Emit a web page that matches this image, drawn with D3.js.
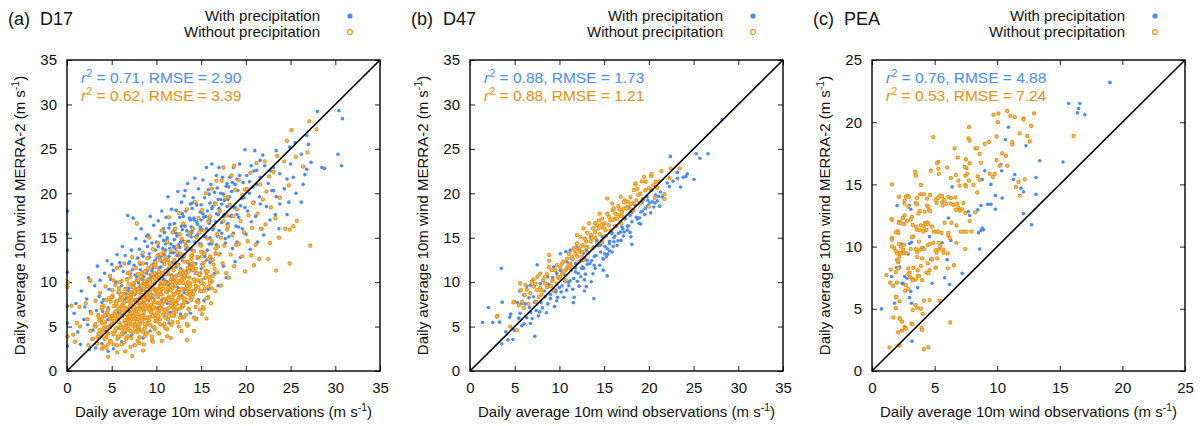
<!DOCTYPE html>
<html>
<head>
<meta charset="utf-8">
<script src="https://cdn.jsdelivr.net/npm/d3@7"></script>
<style>
  html, body { margin: 0; padding: 0; background: #fff; }
  svg text { font-family: "Liberation Sans", Arial, Helvetica, sans-serif; fill: #111; }
</style>
</head>
<body>
<svg id="chart" width="1204" height="426"></svg>
<script>
// ---- Site D17: daily mean 10 m wind, observed (x) vs MERRA-2 (y), m/s ----
const d17Precip = [
[0.05,18.0],[0.05,15.4],[0.05,13.6],[0.05,11.1],[0.05,9.9],[0.05,7.3],[0.05,5.4],[0.05,3.9],[0.05,2.8],
[1.6,9.0],[1.0,7.6],[0.8,6.5],[1.2,4.4],[1.5,3.0],[1.9,5.8],
[2.4,10.5],[2.2,8.1],[2.6,6.7],[2.3,5.2],[2.8,3.6],[2.9,4.6],[2.0,7.2],[2.5,2.4],
[3.4,11.8],[3.1,9.6],[3.6,8.4],[3.3,6.8],[3.8,5.7],[3.5,4.2],[3.9,3.1],[3.2,2.6],[3.9,7.7],[3.7,10.2],
[4.5,12.4],[4.2,11.0],[4.7,9.2],[4.1,8.0],[4.6,7.1],[4.3,6.2],[4.8,5.1],[4.4,3.8],[4.6,2.2],[4.9,10.3],[4.0,6.7],
[5.6,13.1],[5.9,12.2],[5.2,11.3],[5.5,10.0],[5.8,9.1],[5.1,8.3],[5.4,7.5],[5.7,6.6],[5.3,5.6],[5.9,4.8],[5.6,3.6],[5.2,2.5],[5.0,12.0],[5.7,8.8],
[6.8,17.5],[6.2,14.0],[6.5,13.0],[6.9,12.1],[6.3,11.2],[6.7,10.4],[6.1,9.6],[6.6,8.7],[6.4,7.9],[6.9,7.0],[6.2,6.1],[6.8,5.2],[6.5,4.3],[6.1,3.3],[6.0,11.8],[6.9,9.0],
[7.4,17.2],[7.7,14.9],[7.2,13.6],[7.9,12.7],[7.5,11.9],[7.1,11.0],[7.8,10.2],[7.3,9.4],[7.6,8.6],[7.0,7.8],[7.9,6.9],[7.4,6.0],[7.7,5.1],[7.2,4.0],[7.5,2.9],[7.0,12.3],[7.6,10.8],
[8.3,16.0],[8.7,14.6],[8.1,13.7],[8.5,12.9],[8.9,12.1],[8.2,11.4],[8.6,10.6],[8.0,9.9],[8.4,9.1],[8.8,8.4],[8.2,7.6],[8.6,6.8],[8.9,5.9],[8.1,4.8],[8.5,3.7],[8.9,15.2],[8.4,13.1],[8.9,11.0],
[9.3,17.4],[9.7,16.4],[9.1,15.3],[9.5,14.4],[9.9,13.6],[9.2,12.8],[9.6,12.0],[9.0,11.3],[9.4,10.5],[9.8,9.8],[9.2,9.0],[9.6,8.2],[9.1,7.4],[9.5,6.5],[9.9,5.6],[9.3,4.5],[9.0,14.0],[9.8,12.4],[9.7,10.9],
[10.6,18.0],[10.2,16.9],[10.8,16.0],[10.4,15.2],[10.0,14.5],[10.7,13.8],[10.3,13.1],[10.9,12.4],[10.5,11.7],[10.1,11.0],[10.8,10.3],[10.4,9.5],[10.0,8.8],[10.6,8.0],[10.2,7.1],[10.9,6.2],[10.5,5.2],[10.9,15.6],[10.1,12.8],[10.7,10.6],
[11.3,19.6],[11.7,18.2],[11.1,17.3],[11.5,16.5],[11.9,15.7],[11.2,15.0],[11.6,14.3],[11.0,13.6],[11.4,12.9],[11.8,12.2],[11.3,11.5],[11.7,10.8],[11.1,10.1],[11.5,9.3],[11.9,8.5],[11.2,7.6],[11.6,6.6],[11.4,5.4],[11.4,16.1],[11.9,13.3],[11.0,11.0],
[12.4,20.2],[12.8,19.0],[12.2,18.1],[12.6,17.3],[12.0,16.6],[12.9,15.9],[12.3,15.2],[12.7,14.5],[12.1,13.8],[12.5,13.1],[12.9,12.4],[12.2,11.7],[12.6,11.0],[12.0,10.2],[12.4,9.4],[12.8,8.5],[12.3,7.5],[12.7,6.4],[12.9,17.7],[12.0,14.8],[12.5,12.0],
[13.5,21.1],[13.1,19.7],[13.8,18.8],[13.3,18.0],[13.7,17.2],[13.0,16.5],[13.4,15.8],[13.9,15.1],[13.2,14.4],[13.6,13.7],[13.0,13.0],[13.5,12.2],[13.9,11.4],[13.3,10.6],[13.7,9.7],[13.1,8.8],[13.5,7.7],[13.8,6.5],[13.9,16.2],[13.4,14.0],[13.2,20.3],
[14.3,21.7],[14.7,20.5],[14.1,19.5],[14.5,18.7],[14.9,17.9],[14.2,17.2],[14.6,16.5],[14.0,15.8],[14.4,15.1],[14.8,14.3],[14.2,13.5],[14.6,12.7],[14.0,11.9],[14.4,11.0],[14.8,10.1],[14.3,9.1],[14.7,8.0],[14.5,5.9],[14.0,18.3],[14.9,16.0],
[15.6,22.9],[15.2,21.5],[15.8,20.4],[15.4,19.5],[15.0,18.7],[15.7,18.0],[15.3,17.3],[15.9,16.6],[15.1,15.9],[15.5,15.1],[15.9,14.3],[15.2,13.4],[15.6,12.5],[15.0,11.5],[15.4,10.4],[15.8,9.2],[15.3,7.9],[15.0,17.0],[15.9,19.9],
[16.2,23.3],[16.7,22.0],[16.1,21.0],[16.5,20.1],[16.9,19.3],[16.3,18.5],[16.7,17.7],[16.0,16.9],[16.4,16.1],[16.8,15.2],[16.2,14.3],[16.6,13.3],[16.0,12.2],[16.5,11.0],[16.9,9.6],[16.0,18.9],[16.8,20.6],
[17.0,22.9],[17.4,21.8],[17.8,20.8],[17.2,20.0],[17.6,19.2],[17.0,18.3],[17.5,17.4],[17.9,16.5],[17.3,15.5],[17.7,14.4],[17.1,13.2],[17.5,11.8],[17.8,10.5],[17.9,21.1],[17.3,18.8],
[18.6,22.9],[18.2,21.8],[18.8,21.0],[18.4,20.2],[18.0,19.3],[18.7,18.4],[18.3,17.4],[18.9,16.3],[18.1,15.1],[18.5,13.8],[18.8,12.3],[18.1,20.7],
[19.9,24.9],[19.3,23.3],[19.3,22.0],[19.7,21.2],[19.1,20.3],[19.5,19.4],[19.9,18.4],[19.2,17.3],[19.6,16.0],[19.0,14.5],[19.4,12.8],[19.0,21.6],
[21.0,24.8],[20.6,23.1],[20.1,22.0],[20.4,21.3],[20.8,20.7],[20.4,20.0],[20.9,19.0],[20.2,18.0],[20.6,16.8],[20.0,15.4],[20.5,13.7],[20.9,22.5],
[21.9,24.3],[21.6,23.7],[21.6,21.8],[21.2,21.0],[21.5,19.6],[21.6,18.8],[21.1,17.4],[21.8,16.0],[21.3,14.5],[21.2,22.6],
[22.1,23.1],[22.5,21.1],[22.9,20.3],[22.3,18.5],[22.7,17.0],[22.0,15.3],[22.8,22.5],
[23.4,24.8],[23.1,22.9],[23.8,22.2],[23.1,20.3],[23.4,19.6],[23.8,18.8],[23.3,17.6],[23.7,16.0],
[24.9,25.2],[24.6,21.6],[24.3,20.5],[24.8,19.0],[24.6,17.6],
[25.5,25.7],[25.3,21.8],[25.6,20.0],[25.0,23.3],
[26.8,26.5],[26.8,22.7],[26.6,22.1],[26.2,24.4],[26.2,19.0],[26.4,21.0],
[27.0,25.5],[27.3,23.5],
[28.0,29.2],[28.5,22.9],[28.8,22.8],
[30.4,29.3],[30.8,28.4],[30.3,24.4],[30.7,23.1],
// dense band along the 1:1 line
[6.2,7.4],[6.6,8.2],[6.9,9.3],[7.2,8.6],[7.5,9.9],[7.8,10.6],[7.3,11.4],[7.9,8.1],[8.1,9.4],[8.4,10.3],[8.7,11.2],[8.2,12.0],[8.8,9.0],[8.5,7.8],
[9.0,10.0],[9.3,10.8],[9.6,11.6],[9.9,12.5],[9.2,13.2],[9.7,9.3],[9.4,8.6],[10.0,10.7],[10.3,11.6],[10.6,12.3],[10.9,13.1],[10.2,14.0],[10.7,9.9],[10.4,9.1],[10.8,14.7],
[11.0,11.3],[11.3,12.4],[11.6,13.3],[11.9,14.0],[11.2,14.8],[11.7,10.5],[11.4,9.7],[11.8,15.6],[12.0,12.2],[12.3,13.0],[12.6,13.9],[12.9,14.7],[12.2,15.5],[12.7,11.5],[12.4,10.8],[12.8,16.3],
[13.0,12.8],[13.3,13.7],[13.6,14.6],[13.9,15.5],[13.2,16.3],[13.7,12.0],[13.4,11.3],[13.8,17.0],[14.0,13.6],[14.3,14.5],[14.6,15.3],[14.9,16.2],[14.2,17.0],[14.7,12.8],[14.4,12.1],
[15.0,14.3],[15.3,15.2],[15.6,16.0],[15.9,16.9],[15.2,17.7],[15.7,13.6],[15.4,12.9],[16.0,15.0],[16.3,15.9],[16.6,16.8],[16.9,17.6],[16.2,18.3],[16.7,14.2],
[17.0,15.8],[17.3,16.7],[17.6,17.6],[17.9,18.5],[17.2,19.3],[17.7,14.9],[18.0,16.6],[18.4,17.5],[18.8,18.4],[18.2,19.6],[18.6,15.5],[19.0,17.6],[19.4,18.6],[19.8,19.5],[19.2,16.2],
[5.4,6.3],[5.8,7.1],[5.1,5.3],[4.6,5.8],[4.3,4.5],[6.4,5.6],[7.0,6.7],[8.0,7.1],[9.1,7.9],[11.1,9.0],[12.1,9.9],[13.1,10.6],[14.1,11.3],[15.1,12.0],[16.1,12.7],
[9.5,11.3],[10.5,12.9],[11.5,13.8],[12.5,14.2],[13.5,15.3],[14.5,16.8],[15.5,17.4],[16.5,18.9],[17.5,19.9],[18.5,21.2],[11.0,14.3],[12.0,15.9],[13.0,17.4],[14.0,18.9]
];
const d17NoPrecip = [
[0.05,9.45],[0.05,3.9],[0.1,10.0],
[0.5,7.35],[1.45,5.0],[0.7,4.1],[1.4,7.2],[1.1,5.4],[0.9,3.3],[2.6,10.15],
[2.3,5.8],[2.6,4.5],[2.1,7.6],[2.9,3.6],[2.7,6.5],[2.4,2.9],[2.6,10.2],
[3.2,7.9],[3.5,6.3],[3.1,5.1],[3.8,4.0],[3.7,8.8],[3.4,3.1],[3.9,7.0],[3.6,5.7],[3.9,2.5],
[4.3,9.5],[4.7,8.2],[4.1,7.3],[4.5,6.6],[4.9,5.8],[4.2,5.0],[4.6,4.2],[4.8,3.4],[4.4,2.6],[4.6,1.6],[4.8,10.7],[4.9,7.8],[4.0,6.1],
[5.6,11.6],[5.2,10.2],[5.8,9.3],[5.1,8.5],[5.5,7.8],[5.9,7.1],[5.3,6.5],[5.7,5.9],[5.0,5.2],[5.4,4.5],[5.8,3.8],[5.2,3.0],[5.6,2.1],[5.4,9.7],[5.9,8.0],[5.0,6.2],[5.9,4.9],
[6.4,12.1],[6.8,11.0],[6.1,10.1],[6.6,9.3],[6.3,8.7],[6.9,8.1],[6.2,7.5],[6.7,6.9],[6.0,6.3],[6.5,5.7],[6.9,5.1],[6.3,4.5],[6.7,3.8],[6.1,3.0],[6.5,2.2],[6.9,9.8],[6.5,7.8],[6.4,6.6],[6.0,4.9],[6.0,8.4],
[7.8,16.6],[7.3,12.8],[7.7,11.6],[7.1,10.6],[7.5,9.8],[7.9,9.1],[7.2,8.5],[7.6,7.9],[7.0,7.3],[7.4,6.8],[7.8,6.2],[7.1,5.6],[7.5,5.0],[7.9,4.4],[7.2,3.7],[7.6,2.9],[7.8,10.2],[7.4,8.8],[7.9,7.6],[7.2,6.5],[7.6,5.3],[7.3,1.7],
[8.5,13.3],[8.1,12.2],[8.8,11.3],[8.3,10.5],[8.7,9.8],[8.0,9.2],[8.4,8.6],[8.9,8.0],[8.2,7.5],[8.6,6.9],[8.0,6.4],[8.5,5.8],[8.9,5.2],[8.3,4.6],[8.7,3.9],[8.1,3.1],[8.4,11.0],[8.9,9.5],[8.5,8.3],[8.9,7.2],[8.3,6.1],[8.0,4.9],[8.5,2.3],
[9.2,15.0],[9.6,13.7],[9.0,12.7],[9.4,11.8],[9.8,11.0],[9.1,10.3],[9.5,9.7],[9.9,9.1],[9.3,8.5],[9.7,8.0],[9.0,7.4],[9.4,6.9],[9.8,6.3],[9.2,5.7],[9.6,5.0],[9.0,4.3],[9.5,3.5],[9.6,10.7],[9.2,9.4],[9.0,8.2],[9.9,7.1],[9.1,6.0],[9.9,12.2],[9.8,4.7],
[10.6,15.8],[10.2,14.4],[10.8,13.4],[10.4,12.5],[10.0,11.7],[10.7,11.0],[10.3,10.4],[10.9,9.8],[10.1,9.2],[10.5,8.7],[10.8,8.1],[10.2,7.6],[10.6,7.0],[10.0,6.4],[10.4,5.8],[10.8,5.1],[10.2,4.3],[10.6,3.4],[10.9,12.0],[10.5,10.0],[10.0,8.9],[10.9,7.8],[10.3,6.7],[10.1,13.0],
[11.4,17.3],[11.8,15.6],[11.2,14.5],[11.6,13.6],[11.0,12.8],[11.5,12.1],[11.9,11.5],[11.3,10.9],[11.7,10.3],[11.1,9.8],[11.5,9.2],[11.9,8.7],[11.2,8.1],[11.6,7.5],[11.0,6.9],[11.4,6.2],[11.8,5.5],[11.2,4.7],[11.6,3.7],[11.0,11.2],[11.9,10.0],[11.4,8.4],[11.9,7.2],[11.3,12.5],
[12.5,17.8],[12.1,16.0],[12.8,14.9],[12.3,14.0],[12.7,13.2],[12.0,12.5],[12.4,11.9],[12.9,11.3],[12.2,10.7],[12.6,10.1],[12.0,9.5],[12.5,8.9],[12.9,8.3],[12.2,7.7],[12.6,7.0],[12.0,6.3],[12.4,5.5],[12.8,4.5],[12.6,12.8],[12.9,10.4],[12.3,9.0],[12.8,7.4],[12.6,15.4],[12.9,6.0],
[13.4,18.2],[13.0,16.6],[13.7,15.5],[13.2,14.5],[13.6,13.7],[13.1,13.0],[13.5,12.3],[13.9,11.7],[13.3,11.1],[13.7,10.5],[13.0,9.9],[13.4,9.2],[13.8,8.5],[13.2,7.8],[13.6,7.0],[13.1,6.1],[13.5,5.1],[13.9,12.6],[13.0,10.8],[13.8,9.6],[13.0,8.2],[13.3,14.1],[13.4,3.5],
[14.3,19.0],[14.7,17.2],[14.1,16.0],[14.5,15.0],[14.9,14.2],[14.2,13.5],[14.6,12.8],[14.0,12.1],[14.4,11.5],[14.8,10.8],[14.3,10.1],[14.7,9.4],[14.1,8.6],[14.5,7.8],[14.9,6.9],[14.4,5.8],[14.0,13.0],[14.9,11.0],[14.0,9.0],[14.8,15.6],[14.2,4.5],
[15.5,20.0],[15.1,18.1],[15.8,16.8],[15.3,15.8],[15.7,14.9],[15.0,14.1],[15.4,13.3],[15.8,12.6],[15.2,11.8],[15.6,11.0],[15.0,10.2],[15.4,9.3],[15.8,8.3],[15.2,7.2],[15.1,12.9],[15.9,10.6],[15.9,17.3],[15.6,5.9],
[16.2,20.5],[16.6,18.8],[16.0,17.4],[16.4,16.3],[16.8,15.4],[16.2,14.6],[16.6,13.8],[16.0,12.9],[16.4,12.0],[16.8,11.1],[16.2,10.1],[16.6,9.0],[16.1,7.6],[16.9,14.0],[16.7,21.4],
[17.3,21.4],[17.7,19.5],[17.1,18.0],[17.5,16.9],[17.9,15.9],[17.2,15.0],[17.6,14.1],[17.0,13.1],[17.4,12.1],[17.8,11.0],[17.2,9.6],[17.9,17.5],[17.5,22.9],
[18.4,22.0],[18.8,20.4],[18.2,18.7],[18.6,17.4],[18.0,16.3],[18.5,15.3],[18.9,14.2],[18.3,13.1],[18.7,11.8],[18.1,10.5],[18.0,19.6],[18.7,23.1],
[19.2,21.5],[19.6,19.8],[19.0,18.2],[19.4,16.9],[19.8,15.6],[19.2,14.3],[19.6,12.9],[19.9,11.2],[19.9,20.4],
[20.5,22.3],[20.1,20.5],[20.8,18.9],[20.3,17.5],[20.7,16.1],[20.2,14.6],[20.6,13.0],[20.9,11.9],
[21.2,23.4],[21.6,21.0],[21.9,19.3],[21.3,17.7],[21.7,16.0],[21.1,14.2],[21.5,12.6],
[22.1,23.6],[22.6,21.9],[22.3,20.2],[22.8,18.4],[22.2,16.5],[22.7,14.4],[22.5,12.6],
[23.5,24.2],[23.1,22.4],[23.8,19.5],[23.3,17.2],[23.7,15.0],[23.4,11.3],
[24.6,25.9],[24.3,23.6],[24.8,20.9],[24.4,16.0],[24.9,12.1],
[25.1,27.1],[25.6,24.1],[25.7,16.9],[25.3,16.3],[24.9,15.9],
[26.4,23.0],[26.9,24.6],
[27.1,28.1],[27.9,27.2],[27.2,14.1],
// dense core of dry days
[3.3,3.1],[4.1,2.8],[4.9,3.3],[5.6,2.9],[6.4,3.2],[7.1,2.7],[7.9,3.4],[8.6,3.0],[9.6,3.3],
[3.6,4.2],[4.4,3.8],[5.1,4.3],[5.7,3.7],[6.2,4.1],[6.8,3.9],[7.4,4.3],[8.1,3.8],[8.8,4.2],[9.5,3.9],[10.3,4.2],[11.2,3.9],[4.0,4.5],[6.5,4.6],[7.7,4.7],
[3.2,5.0],[3.9,5.4],[4.5,4.9],[5.0,5.3],[5.5,4.8],[6.0,5.2],[6.6,4.9],[7.1,5.3],[7.6,5.0],[8.2,5.4],[8.7,4.8],[9.3,5.2],[9.8,4.9],[10.4,5.3],[11.0,4.8],[11.7,5.2],[12.5,5.0],[13.4,5.3],[5.3,5.6],[6.8,5.7],[8.4,5.7],[9.9,5.6],
[3.5,6.1],[4.2,6.3],[4.8,5.9],[5.4,6.2],[5.9,6.0],[6.4,6.4],[6.9,5.9],[7.4,6.2],[7.9,5.8],[8.5,6.3],[9.0,5.9],[9.6,6.2],[10.1,5.9],[10.7,6.3],[11.3,5.8],[11.9,6.2],[12.6,6.0],[13.3,6.3],[14.2,6.0],[15.1,6.4],[6.1,6.7],[7.7,6.6],[9.3,6.7],[10.9,6.6],[12.2,6.7],
[3.9,7.2],[4.6,6.9],[5.2,7.3],[5.8,7.0],[6.3,7.3],[6.8,6.9],[7.3,7.2],[7.8,6.9],[8.3,7.3],[8.8,7.0],[9.4,7.3],[9.9,6.9],[10.5,7.2],[11.0,6.9],[11.6,7.3],[12.2,7.0],[12.9,7.3],[13.6,6.9],[14.4,7.2],[15.3,7.0],[5.5,7.6],[7.1,7.7],[8.6,7.6],[10.2,7.7],[11.8,7.6],[13.2,7.7],
[4.4,8.0],[5.0,8.3],[5.6,7.9],[6.2,8.2],[6.7,7.9],[7.2,8.3],[7.7,8.0],[8.2,8.3],[8.7,7.9],[9.2,8.2],[9.7,7.9],[10.2,8.3],[10.8,7.9],[11.3,8.2],[11.9,7.9],[12.5,8.3],[13.1,7.9],[13.8,8.2],[14.6,7.9],[15.6,8.2],[6.0,8.6],[7.5,8.7],[9.0,8.6],[10.5,8.7],[12.0,8.6],[13.5,8.7],
[5.1,9.1],[5.8,8.9],[6.5,9.2],[7.1,8.9],[7.6,9.3],[8.1,8.9],[8.6,9.2],[9.1,8.9],[9.6,9.3],[10.1,8.9],[10.6,9.2],[11.2,8.9],[11.8,9.3],[12.4,8.9],[13.0,9.2],[13.7,8.9],[14.4,9.3],[15.3,9.0],[16.2,9.3],[7.3,9.6],[8.9,9.7],[10.4,9.6],[12.0,9.7],[13.4,9.6],
[5.9,10.0],[6.7,10.3],[7.4,9.9],[8.0,10.2],[8.6,9.9],[9.2,10.3],[9.8,10.0],[10.4,10.2],[11.0,9.9],[11.6,10.3],[12.2,9.9],[12.8,10.2],[13.5,10.0],[14.2,10.3],[15.0,9.9],[16.0,10.2],[8.3,10.6],[10.1,10.7],[11.9,10.6],[13.2,10.7],
[7.0,11.1],[7.9,10.9],[8.7,11.2],[9.5,10.9],[10.3,11.2],[11.1,10.9],[11.9,11.3],[12.7,10.9],[13.6,11.2],[14.5,11.0],[15.5,11.3],[9.1,11.6],[11.5,11.7],[13.9,11.6],
[8.5,12.1],[9.8,11.9],[10.9,12.3],[12.0,12.0],[13.1,12.3],[14.2,12.0],[15.3,12.2],[16.3,12.5],
[10.5,13.1],[12.3,13.4],[13.9,13.0],[15.0,13.4],[16.6,13.2],
[5.2,4.1],[5.5,4.8],[5.8,5.5],[5.1,6.0],[5.4,6.7],[5.7,3.9],[5.9,6.2],[5.6,7.3],
[6.1,4.2],[6.3,5.0],[6.6,5.4],[6.8,6.0],[6.2,6.6],[6.5,7.1],[6.9,4.7],[6.7,6.4],[6.3,7.6],[6.8,8.5],[6.6,3.6],
[7.1,4.5],[7.3,5.2],[7.5,5.8],[7.7,6.4],[7.9,7.0],[7.2,7.4],[7.4,6.6],[7.6,4.8],[7.8,5.5],[7.0,6.1],[7.3,8.0],[7.6,8.9],[7.9,7.9],[7.5,7.2],[7.4,9.4],
[8.0,5.0],[8.2,5.6],[8.4,6.2],[8.6,6.6],[8.8,7.1],[8.1,7.7],[8.3,8.2],[8.5,4.4],[8.7,5.3],[8.9,6.0],[8.2,6.9],[8.4,7.4],[8.6,8.0],[8.8,8.7],[8.0,8.9],[8.3,9.6],[8.7,10.1],
[9.0,5.4],[9.2,6.1],[9.4,6.6],[9.6,7.2],[9.8,7.7],[9.1,8.3],[9.3,8.8],[9.5,9.2],[9.9,5.9],[9.2,7.0],[9.4,7.5],[9.6,8.0],[9.8,8.6],[9.0,9.6],[9.3,10.1],[9.7,10.5],
[10.0,5.6],[10.2,6.2],[10.4,6.9],[10.6,7.4],[10.8,7.9],[10.1,8.4],[10.3,9.0],[10.5,9.5],[10.7,10.0],[10.9,5.3],[10.4,7.7],[10.6,8.6],[10.8,9.3],[10.0,10.3],[10.3,10.8],
[11.0,6.0],[11.2,6.6],[11.4,7.1],[11.6,7.8],[11.8,8.3],[11.1,8.9],[11.3,9.4],[11.5,10.0],[11.7,10.6],[11.9,6.5],[11.4,8.0],[11.6,9.1],[11.8,9.7],[11.3,11.1],
[12.0,6.9],[12.2,7.5],[12.4,8.0],[12.6,8.6],[12.8,9.2],[12.1,9.7],[12.3,10.2],[12.5,10.8],[12.7,11.3],[12.9,7.2],[12.4,8.8],[12.6,9.9],
[13.0,7.4],[13.2,8.1],[13.4,8.7],[13.6,9.3],[13.8,9.9],[13.1,10.4],[13.3,11.0],[13.5,11.6],[13.9,8.0],[13.4,9.6],
[14.0,8.3],[14.2,8.9],[14.4,9.6],[14.6,10.2],[14.8,10.9],[14.1,11.4],[14.7,7.7],[14.9,9.0],
[15.0,9.0],[15.3,9.8],[15.5,10.5],[15.7,11.2],[15.8,9.5],[16.0,9.9],[16.3,10.7],[16.5,11.5],
[4.2,3.6],[4.5,4.3],[4.8,4.9],[4.3,5.5],[4.7,6.2],[4.1,4.8],[4.6,3.0],[3.4,3.8],[3.7,4.6],[3.2,5.3],[3.9,5.9]
];

// ---- Site D47 ----
const d47Precip = [
[28.2,28.3],[26.6,24.45],[25.7,23.95],[25.3,24.45],[22.4,24.15],[25.05,21.55],[24.3,22.2],[24.15,21.9],[23.85,21.8],[23.55,20.7],
[23.2,21.7],[23.2,22.35],[22.7,21.35],[22.3,20.75],[22.05,21.15],[21.1,19.65],[20.95,19.15],[21.2,18.55],[20.7,18.9],[20.55,18.45],
[20.2,17.8],[19.9,19.2],[19.85,18.6],[19.55,17.6],[19.3,18.0],[19.1,16.55],[18.95,17.25],[18.7,17.1],[18.3,18.1],[18.1,17.85],
[18.1,14.25],[18.0,15.1],[17.9,17.5],[17.7,16.35],[17.6,15.85],[17.25,15.65],[17.15,15.2],[17.0,16.2],[16.85,15.65],[16.55,14.65],
[16.45,14.15],[16.2,15.2],[16.1,14.55],[16.0,14.0],[15.6,13.5],[15.4,13.15],[15.35,13.75],[15.25,12.85],[15.05,13.2],[14.9,12.6],
[15.35,10.7],[14.9,11.35],[14.6,14.15],[14.5,11.9],[14.0,11.55],[13.9,12.9],[13.75,10.95],[13.85,8.15],[13.55,10.05],[13.4,12.1],
[13.1,12.45],[13.0,9.5],[12.8,9.0],[12.8,10.25],[12.7,11.55],[12.5,11.55],[12.4,10.6],[12.2,9.55],[12.0,10.1],[11.8,11.15],
[11.65,8.3],[11.55,7.7],[11.5,9.2],[11.2,10.15],[11.05,9.6],[10.9,11.55],[10.8,9.1],[10.7,13.45],[10.6,10.1],[10.5,8.3],
[10.2,8.9],[10.1,11.3],[10.0,9.4],[9.8,8.3],[9.7,7.9],[9.6,8.9],[9.45,7.25],[9.35,11.7],[9.25,10.5],[9.0,8.15],
[8.7,7.55],[8.55,6.55],[8.4,8.35],[8.3,9.0],[8.1,7.1],[7.95,7.7],[7.8,6.65],[7.65,6.2],[7.4,6.8],[7.25,3.9],
[7.2,7.75],[7.1,8.35],[6.95,5.9],[6.8,6.6],[6.75,5.35],[6.65,7.15],[6.6,8.25],[6.35,6.0],[6.2,7.55],[6.05,5.3],
[5.8,5.1],[5.6,6.5],[5.45,5.95],[5.55,9.0],[5.3,7.7],[4.95,4.6],[4.8,3.55],[4.55,6.4],[4.45,6.05],[4.25,3.5],
[4.0,4.4],[3.5,11.55],[3.6,7.75],[3.55,3.05],[3.3,5.5],[2.55,5.45],[2.05,7.15],[1.4,5.45],[7.2,9.6],[7.5,11.95],
[8.15,10.2],[8.8,9.75],[9.35,9.0],[10.85,12.3],[11.35,12.65],[11.95,13.95],[11.8,12.1],[12.45,12.55],[13.0,13.6],[13.85,13.95],
[14.2,14.7],[14.8,15.1],[15.6,14.35],[15.9,15.55],[16.4,16.3],[16.85,16.8],[17.4,17.15],[17.75,18.45],[18.5,18.65],[19.25,19.0],
[19.8,19.6],[20.4,19.05],[20.75,19.8],[21.3,20.15],[21.5,19.6],[13.45,15.1],[12.7,13.25],[11.2,13.6],[10.1,13.2],[9.7,11.0],
[8.7,10.6],[7.85,9.85],[6.35,9.5],[6.75,9.65],[6.0,8.55],[5.8,7.6],
[11.0,10.0],[11.6,10.4],[12.1,11.0],[12.6,11.7],[13.1,12.0],[13.6,12.4],[14.1,13.0],[14.6,13.4],[15.1,14.0],[15.6,14.6],
[16.1,15.0],[16.6,15.5],[17.1,16.0],[17.6,16.3],[18.1,16.8],[18.6,17.3],[19.1,17.9],[19.6,18.3],[20.1,18.9],[10.3,9.6],
[9.6,9.1],[9.0,8.6],[12.9,10.9],[13.9,11.9],[14.9,12.6],[15.9,13.4],[16.9,14.7],[17.9,15.6],[18.9,16.6],[11.8,11.6],
[12.8,12.7],[14.3,14.1],[15.8,15.5],[17.3,17.1],[10.6,10.8]
];
const d47NoPrecip = [
[22.45,22.8],[21.4,22.5],[23.45,22.8],[22.3,21.7],[21.15,21.35],[20.25,21.95],[20.0,20.55],[19.65,21.3],[19.2,21.35],[18.5,21.0],
[20.95,20.6],[21.75,19.9],[21.75,19.35],[20.65,19.5],[20.3,20.35],[20.5,20.9],[20.0,18.5],[19.3,19.35],[19.0,18.85],[18.6,19.2],
[18.2,18.85],[17.95,18.2],[17.6,19.05],[17.3,19.2],[17.2,18.3],[16.9,17.45],[16.6,18.55],[16.25,17.7],[16.15,17.15],[15.95,18.1],
[15.7,16.95],[15.55,17.35],[15.35,17.7],[15.05,16.6],[14.85,16.2],[14.5,17.7],[14.4,16.95],[14.2,16.4],[14.0,15.65],[13.75,16.05],
[13.55,15.3],[13.3,16.6],[13.1,15.55],[12.8,14.9],[13.0,14.55],[12.6,14.15],[12.35,15.1],[12.2,13.6],[11.95,14.35],[11.8,13.2],
[11.6,13.8],[11.4,12.85],[11.2,12.1],[11.05,13.2],[10.9,11.7],[10.65,11.35],[10.45,12.3],[10.3,10.95],[10.1,11.7],[9.95,10.4],
[9.7,9.85],[9.55,11.35],[9.25,10.25],[9.05,9.55],[8.85,13.05],[8.85,12.4],[8.6,10.9],[8.4,9.85],[8.15,10.2],[8.0,9.1],
[7.85,9.4],[7.7,8.35],[7.55,10.6],[7.4,7.8],[7.3,9.8],[7.1,9.5],[6.9,10.05],[6.75,8.75],[6.55,7.55],[6.35,9.15],
[6.15,8.55],[6.0,7.1],[5.85,7.8],[5.7,9.1],[5.45,7.4],[5.25,4.6],[4.95,7.8],[4.85,7.7],[4.5,5.0],[3.05,6.2],
[3.0,6.1],[15.35,19.4],[16.85,19.6],[18.3,20.35],[19.45,21.85],[20.3,22.15],[18.5,21.1],[18.7,20.5],[17.2,19.0],[17.6,18.5],
[15.9,18.85],[16.1,18.3],[14.4,16.05],[14.8,17.15],[13.65,14.9],[12.7,16.05],[11.95,15.3],[11.8,13.8],[12.35,13.4],[10.85,12.65],
[10.3,12.1],[9.7,11.9],[8.8,11.7],[9.15,11.35],[8.4,10.6],[7.85,10.95],[7.5,9.1],[6.2,9.65],[5.6,9.85],[7.1,10.3],
[14.0,16.6],[15.15,15.85],[16.45,17.15],[17.95,19.55],[19.05,19.95],[19.6,20.35],[20.75,21.3],[13.1,13.95],[12.55,12.85],[11.4,11.7],
[10.1,10.6],[10.65,10.25],[9.35,9.1],
[11.0,11.9],[11.5,12.6],[12.0,12.9],[12.5,13.4],[13.0,13.9],[13.5,14.6],[14.0,15.0],[14.5,15.4],[15.0,16.0],[15.5,16.4],
[16.0,17.0],[16.5,17.6],[17.0,17.9],[17.5,18.3],[18.0,18.8],[12.2,12.3],[13.2,13.3],[14.2,14.4],[15.2,15.2],[16.2,16.3],
[17.2,17.3],[18.2,18.1],[11.7,13.6],[12.9,14.8],[14.7,16.5],[16.7,18.2],[13.7,13.8],[15.7,15.8],[10.5,11.2],[9.8,10.6],
[9.2,10.1],[8.6,9.4],[8.0,8.6],[11.3,11.4],[12.7,12.5],[14.8,14.5],[16.9,16.6],[19.4,19.3],[18.8,19.8],[12.4,14.0]
];

// ---- Site PEA ----
const peaPrecip = [
[19.0,23.2],[15.7,21.5],[16.6,21.5],[16.5,21.1],[16.4,20.75],[17.0,20.6],[10.9,19.6],[10.65,18.6],[12.3,18.1],[13.4,16.9],
[15.25,16.8],[10.3,16.6],[10.35,16.1],[9.0,16.1],[11.4,15.8],[11.3,15.4],[13.1,15.55],[8.8,15.4],[9.5,15.0],[6.4,14.8],
[11.9,14.7],[12.1,14.4],[13.1,14.2],[9.85,14.1],[10.4,13.9],[9.25,13.4],[9.5,13.4],[9.85,13.0],[8.7,13.3],[8.45,12.95],
[7.7,12.8],[7.8,12.5],[12.1,12.65],[6.1,12.3],[12.75,11.75],[8.8,11.5],[8.9,11.35],[8.7,11.3],[8.5,11.1],[8.6,9.8],
[7.2,7.85],[6.2,6.95],[5.8,7.5],[6.0,8.95],[5.6,10.3],[6.3,10.5],[4.6,10.8],[4.8,8.95],[4.7,8.95],[4.1,9.9],
[4.8,7.05],[3.0,10.25],[2.9,9.4],[3.15,10.35],[2.35,10.2],[2.2,8.35],[2.0,13.3],[3.1,13.0],[2.98,13.3],[2.6,7.6],
[2.8,7.45],[2.5,7.0],[1.55,7.6],[2.4,7.05],[3.1,6.4],[3.0,5.9],[3.65,6.7],[1.8,5.45],[3.15,5.45],[0.75,4.99],
[3.2,2.4],[2.5,9.7],[1.95,8.3]
];
const peaNoPrecip = [
[10.8,20.9],[10.1,20.7],[9.7,20.6],[11.05,20.5],[11.4,20.4],[12.1,20.3],[12.1,20.2],[12.95,20.7],[12.7,19.7],[10.05,20.0],
[7.75,19.6],[11.8,19.1],[12.4,18.9],[16.1,18.9],[4.9,18.8],[7.7,18.7],[9.95,18.85],[11.2,18.4],[11.2,18.2],[9.35,18.4],
[9.0,18.25],[12.6,18.45],[7.8,18.5],[6.6,17.9],[8.25,17.9],[8.4,17.9],[8.6,17.45],[10.4,17.5],[10.7,17.3],[6.85,17.15],
[7.5,17.0],[5.3,16.8],[5.2,16.7],[8.7,16.75],[9.95,16.95],[10.8,16.5],[10.2,16.5],[7.8,16.7],[7.55,16.3],[7.4,16.4],
[4.7,16.1],[5.3,16.25],[6.0,16.35],[3.45,16.0],[3.5,15.7],[5.35,15.85],[6.7,15.75],[7.6,15.85],[7.45,15.7],[6.3,15.5],
[8.45,15.65],[9.4,15.85],[9.8,15.85],[9.65,15.6],[6.9,15.3],[7.75,15.3],[8.6,15.35],[7.45,14.95],[7.0,14.9],[8.1,14.95],
[7.5,14.85],[8.4,14.35],[3.9,14.95],[12.2,15.4],[11.7,15.2],[11.5,14.8],[11.8,14.1],[1.6,15.0],[2.15,14.0],[2.7,14.0],
[2.85,14.1],[2.95,14.0],[3.85,14.2],[3.95,14.2],[4.15,14.2],[4.65,14.15],[5.45,14.1],[5.6,14.05],[6.1,14.0],[6.3,13.9],
[6.65,13.95],[5.25,13.9],[5.1,13.75],[4.4,13.85],[3.6,13.9],[2.6,13.7],[2.6,13.45],[2.9,13.2],[3.5,13.5],[3.6,13.4],
[4.4,13.3],[4.5,13.2],[5.15,13.5],[5.6,13.55],[5.65,13.3],[5.75,13.75],[5.95,13.45],[6.3,13.45],[6.5,13.35],[6.8,13.45],
[6.9,13.15],[6.7,12.95],[7.0,12.9],[7.3,13.5],[7.2,13.0],[8.25,12.75],[7.45,12.7],[4.2,12.8],[3.8,12.85],[3.7,12.65],
[4.55,12.95],[4.65,12.85],[3.2,12.4],[3.1,12.2],[2.8,12.05],[1.6,12.15],[2.15,12.0],[2.15,11.9],[2.55,11.8],[2.3,11.9],
[3.25,11.75],[3.5,11.6],[3.6,11.35],[3.8,11.35],[3.9,11.7],[4.1,11.65],[4.25,11.9],[4.3,11.8],[4.4,11.95],[4.5,11.8],
[4.15,11.3],[4.35,11.35],[4.8,11.6],[4.95,11.2],[5.15,11.2],[5.3,11.2],[5.55,11.1],[6.1,11.1],[5.8,11.9],[6.35,11.9],
[6.75,11.7],[7.1,11.2],[7.3,11.2],[7.55,11.2],[7.8,12.05],[7.95,11.2],[6.1,10.9],[6.2,10.7],[3.3,10.8],[3.2,10.75],
[2.05,11.25],[2.1,11.1],[1.6,10.7],[1.6,10.55],[2.15,10.2],[2.55,10.15],[2.3,10.0],[1.75,9.9],[1.6,10.0],[1.9,9.65],
[2.5,9.75],[2.35,9.45],[2.2,9.5],[2.6,9.5],[2.75,9.45],[3.1,9.8],[3.5,9.8],[3.6,9.55],[3.6,9.15],[4.0,9.9],
[4.15,9.8],[4.45,10.1],[4.6,10.2],[4.9,10.3],[5.35,10.3],[5.45,10.0],[5.35,9.75],[5.1,9.7],[5.7,9.75],[5.7,9.5],
[5.2,9.05],[4.8,9.0],[4.0,9.05],[5.15,9.5],[6.75,10.3],[7.45,9.8],[6.55,8.5],[6.05,8.25],[5.1,8.3],[4.6,8.1],
[4.35,7.9],[4.5,7.85],[3.65,8.1],[3.3,8.3],[2.9,8.25],[3.0,7.9],[3.65,7.65],[2.9,7.8],[3.05,7.55],[3.2,7.4],
[3.25,7.3],[3.5,7.35],[3.75,7.6],[4.0,7.3],[2.0,9.45],[2.0,8.95],[2.1,8.75],[2.2,9.2],[2.1,8.85],[2.1,8.25],
[1.9,7.95],[1.5,8.15],[1.15,7.7],[1.45,7.1],[1.7,6.85],[2.0,7.1],[2.7,6.9],[2.9,6.6],[2.65,6.45],[1.9,5.95],
[1.95,5.95],[2.2,5.6],[1.9,5.05],[3.45,5.3],[3.6,5.1],[3.9,5.0],[4.05,4.6],[3.25,4.9],[4.15,5.65],[4.6,5.7],
[5.4,5.65],[3.15,3.8],[3.25,3.75],[3.95,3.45],[4.0,3.3],[1.7,4.3],[2.2,4.25],[2.25,4.15],[2.4,3.95],[2.6,3.55],
[2.65,3.45],[2.4,3.25],[2.1,3.1],[2.7,3.4],[6.25,3.9],[1.4,1.9],[2.2,2.05],[4.15,1.75],[4.5,1.9],[1.55,12.2],
[1.9,11.15],[2.6,12.5],[2.45,12.3],[4.1,11.2],[3.75,10.4],[3.9,8.45],[4.45,8.65],[6.05,9.45],[5.1,9.7],[3.85,9.75]
];

// Axis ticks and panel annotations
const ticks35 = [0, 5, 10, 15, 20, 25, 30, 35];
const ticks25 = [0, 5, 10, 15, 20, 25];
const panelTags = ["(a)", "(b)", "(c)"];
const siteNames = ["D17", "D47", "PEA"];
const r2Precip = ["0.71", "0.88", "0.76"];
const rmsePrecip = ["2.90", "1.73", "4.88"];
const r2NoPrecip = ["0.62", "0.88", "0.53"];
const rmseNoPrecip = ["3.39", "1.21", "7.24"];
const seriesNames = ["With precipitation", "Without precipitation"];

const BLUE = "#4a8cf7";
const ORANGE = "#e9900c";

const panels = [
  { left: 67,  ticks: ticks35, max: 35, wet: d17Precip, dry: d17NoPrecip },
  { left: 470, ticks: ticks35, max: 35, wet: d47Precip, dry: d47NoPrecip },
  { left: 872, ticks: ticks25, max: 25, wet: peaPrecip, dry: peaNoPrecip }
];
const TOP = 60, W = 313, H = 311;

const svg = d3.select("#chart");

panels.forEach((p, i) => {
  const g = svg.append("g").attr("transform", `translate(${p.left},${TOP})`);
  const x = d3.scaleLinear().domain([0, p.max]).range([0, W]);
  const y = d3.scaleLinear().domain([0, p.max]).range([H, 0]);

  // mirrored inward ticks on all four sides
  const styleAxis = sel => {
    sel.select(".domain").remove();
    sel.selectAll(".tick line").attr("stroke", "#222").attr("stroke-width", 1);
    sel.selectAll(".tick text").attr("font-size", 15).attr("fill", "#111")
      .attr("font-family", '"Liberation Sans", Arial, sans-serif');
  };
  g.append("g").attr("transform", `translate(0,${H})`)
    .call(d3.axisBottom(x).tickValues(p.ticks).tickSize(-5).tickPadding(11).tickFormat(d3.format("d")))
    .call(styleAxis);
  g.append("g")
    .call(d3.axisLeft(y).tickValues(p.ticks).tickSize(-5).tickPadding(10).tickFormat(d3.format("d")))
    .call(styleAxis);
  g.append("g")
    .call(d3.axisTop(x).tickValues(p.ticks).tickSize(-5).tickFormat(""))
    .call(styleAxis);
  g.append("g").attr("transform", `translate(${W},0)`)
    .call(d3.axisRight(y).tickValues(p.ticks).tickSize(-5).tickFormat(""))
    .call(styleAxis);

  // points: precipitation days first, dry days drawn over them
  g.append("g").selectAll("circle").data(p.wet).join("circle")
    .attr("cx", d => x(d[0])).attr("cy", d => y(d[1]))
    .attr("r", 1.8).attr("fill", BLUE);
  g.append("g").selectAll("circle").data(p.dry).join("circle")
    .attr("cx", d => x(d[0])).attr("cy", d => y(d[1]))
    .attr("r", 1.6).attr("fill", "#f6c57e").attr("stroke", ORANGE).attr("stroke-width", 1.1);

  // 1:1 line
  g.append("line")
    .attr("x1", x(0)).attr("y1", y(0)).attr("x2", x(p.max)).attr("y2", y(p.max))
    .attr("stroke", "#000").attr("stroke-width", 1.6);

  // frame
  g.append("rect").attr("x", 0).attr("y", 0).attr("width", W).attr("height", H)
    .attr("fill", "none").attr("stroke", "#000").attr("stroke-width", 1.4);

  // fit statistics
  const stat = (row, color, r2, rmse) => {
    const t = g.append("text").attr("x", 14).attr("y", 23 + row * 18)
      .attr("font-size", 15.5).style("fill", color);
    t.append("tspan").attr("font-style", "italic").text("r");
    t.append("tspan").attr("font-size", 11).attr("dy", -6).text("2");
    t.append("tspan").attr("dy", 6).text(` = ${r2}, RMSE = ${rmse}`);
  };
  stat(0, BLUE, r2Precip[i], rmsePrecip[i]);
  stat(1, ORANGE, r2NoPrecip[i], rmseNoPrecip[i]);

  // panel heading
  svg.append("text").attr("x", p.left - 59).attr("y", 25)
    .attr("font-size", 18).text(`${panelTags[i]}\u00a0\u00a0${siteNames[i]}`);

  // legend
  svg.append("text").attr("x", p.left + 253).attr("y", 21).attr("text-anchor", "end")
    .attr("font-size", 15).text(seriesNames[0]);
  svg.append("text").attr("x", p.left + 253).attr("y", 37).attr("text-anchor", "end")
    .attr("font-size", 15).text(seriesNames[1]);
  svg.append("circle").attr("cx", p.left + 283).attr("cy", 16).attr("r", 2.6).attr("fill", BLUE);
  svg.append("circle").attr("cx", p.left + 283).attr("cy", 32).attr("r", 2.4)
    .attr("fill", "#fff").attr("stroke", ORANGE).attr("stroke-width", 1.1);

  // axis titles
  const xt = svg.append("text").attr("x", p.left + W / 2).attr("y", 417)
    .attr("text-anchor", "middle").attr("font-size", 15);
  xt.append("tspan").text("Daily average 10m wind observations (m s");
  xt.append("tspan").attr("font-size", 10.5).attr("dy", -6).text("-1");
  xt.append("tspan").attr("dy", 6).text(")");

  const yt = svg.append("text")
    .attr("transform", `translate(${p.left - 42},${TOP + H / 2}) rotate(-90)`)
    .attr("text-anchor", "middle").attr("font-size", 15);
  yt.append("tspan").text("Daily average 10m wind MERRA-2 (m s");
  yt.append("tspan").attr("font-size", 10.5).attr("dy", -6).text("-1");
  yt.append("tspan").attr("dy", 6).text(")");
});
</script>
</body>
</html>
